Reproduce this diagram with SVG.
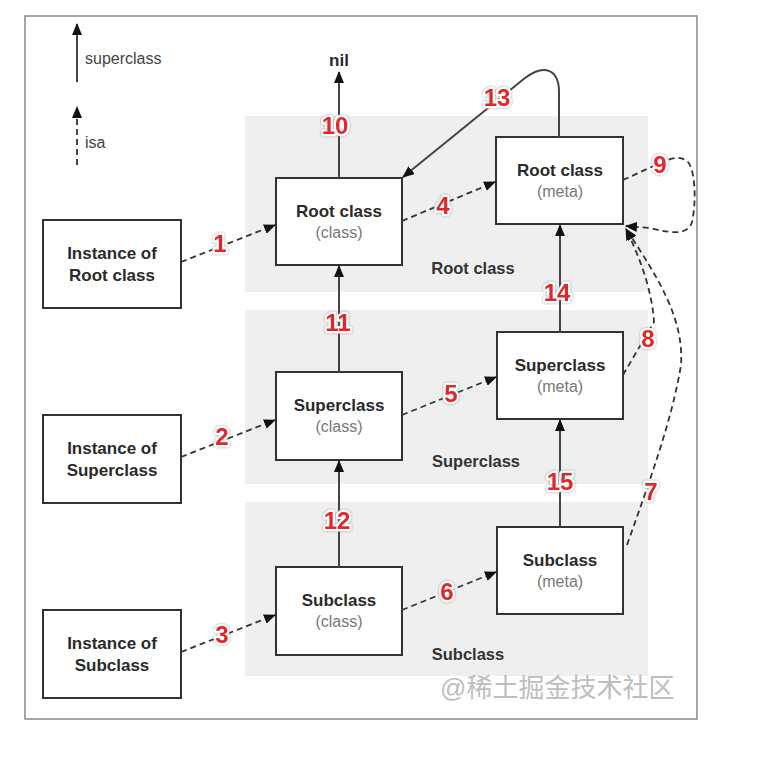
<svg xmlns="http://www.w3.org/2000/svg" width="776" height="763" viewBox="0 0 776 763">
<defs>
<marker id="ah" markerWidth="12" markerHeight="10" refX="11" refY="5" orient="auto" markerUnits="userSpaceOnUse">
<path d="M0,0 L12,5 L0,10 Z" fill="#111"/>
</marker>
<filter id="ring" x="-30%" y="-30%" width="160%" height="160%">
<feDropShadow dx="0" dy="0" stdDeviation="0.8" flood-color="#888" flood-opacity="0.9"/>
</filter>
<style>
.panel{fill:#efefef}
.box{fill:#fff;stroke:#333;stroke-width:2}
.t{font-family:"Liberation Sans",Arial,sans-serif;font-size:17px;font-weight:bold;fill:#2a2a2a;text-anchor:middle}
.s{font-family:"Liberation Sans",Arial,sans-serif;font-size:16px;fill:#777;text-anchor:middle}
.pl{font-family:"Liberation Sans",Arial,sans-serif;font-size:16.5px;font-weight:bold;fill:#333;text-anchor:middle}
.solid{fill:none;stroke:#444;stroke-width:2}
.dash{fill:none;stroke:#333;stroke-width:1.8;stroke-dasharray:6 4}
.n{font-family:"Liberation Sans",Arial,sans-serif;font-size:24px;font-weight:bold;fill:#e3262b;stroke:#fff;stroke-width:4.5;paint-order:stroke;stroke-linejoin:round;text-anchor:middle}
.leg{font-family:"Liberation Sans",Arial,sans-serif;font-size:16px;fill:#444}
</style>
</defs>
<rect x="0" y="0" width="776" height="763" fill="#fff"/>
<rect x="25" y="16" width="672" height="703" fill="none" stroke="#888" stroke-width="1.5"/>

<g id="panels">
<rect class="panel" x="245" y="116" width="403" height="176"/>
<rect class="panel" x="245" y="310" width="403" height="174"/>
<rect class="panel" x="245" y="502" width="403" height="174"/>
<text class="pl" x="473" y="274">Root class</text>
<text class="pl" x="476" y="467">Superclass</text>
<text class="pl" x="468" y="660">Subclass</text>
</g>

<g id="legend">
<line class="solid" x1="77" y1="82" x2="77" y2="24" marker-end="url(#ah)"/>
<text class="leg" x="85" y="64">superclass</text>
<line class="dash" x1="77" y1="165" x2="77" y2="107" stroke-dasharray="5 4" marker-end="url(#ah)"/>
<text class="leg" x="85" y="148">isa</text>
</g>

<g id="inst-root"><rect class="box" x="43" y="220" width="138" height="88"/><text class="t" x="112" y="259">Instance of</text><text class="t" x="112" y="281">Root class</text></g>
<g id="inst-super"><rect class="box" x="43" y="415" width="138" height="88"/><text class="t" x="112" y="454">Instance of</text><text class="t" x="112" y="476">Superclass</text></g>
<g id="inst-sub"><rect class="box" x="43" y="610" width="138" height="88"/><text class="t" x="112" y="649">Instance of</text><text class="t" x="112" y="671">Subclass</text></g>

<g id="root-class"><rect class="box" x="276" y="178" width="126" height="87"/><text class="t" x="339" y="217">Root class</text><text class="s" x="339" y="238">(class)</text></g>
<g id="super-class"><rect class="box" x="276" y="372" width="126" height="88"/><text class="t" x="339" y="411">Superclass</text><text class="s" x="339" y="432">(class)</text></g>
<g id="sub-class"><rect class="box" x="276" y="567" width="126" height="88"/><text class="t" x="339" y="606">Subclass</text><text class="s" x="339" y="627">(class)</text></g>

<g id="root-meta"><rect class="box" x="496" y="137" width="127" height="87"/><text class="t" x="560" y="176">Root class</text><text class="s" x="560" y="197">(meta)</text></g>
<g id="super-meta"><rect class="box" x="497" y="332" width="126" height="87"/><text class="t" x="560" y="371">Superclass</text><text class="s" x="560" y="392">(meta)</text></g>
<g id="sub-meta"><rect class="box" x="497" y="527" width="126" height="87"/><text class="t" x="560" y="566">Subclass</text><text class="s" x="560" y="587">(meta)</text></g>

<g id="nil"><text class="t" x="339" y="66" font-size="15">nil</text></g>

<g id="connectors">
<line class="dash" x1="181" y1="262" x2="275" y2="225" marker-end="url(#ah)"/>
<line class="dash" x1="181" y1="457" x2="275" y2="420" marker-end="url(#ah)"/>
<line class="dash" x1="181" y1="652" x2="275" y2="615" marker-end="url(#ah)"/>
<line class="dash" x1="402" y1="221" x2="495" y2="182" marker-end="url(#ah)"/>
<line class="dash" x1="402" y1="415" x2="496" y2="377" marker-end="url(#ah)"/>
<line class="dash" x1="402" y1="610" x2="496" y2="572" marker-end="url(#ah)"/>
<line class="solid" x1="339" y1="178" x2="339" y2="72" marker-end="url(#ah)"/>
<line class="solid" x1="339" y1="372" x2="339" y2="266" marker-end="url(#ah)"/>
<line class="solid" x1="339" y1="567" x2="339" y2="461" marker-end="url(#ah)"/>
<line class="solid" x1="560" y1="332" x2="560" y2="225" marker-end="url(#ah)"/>
<line class="solid" x1="560" y1="527" x2="560" y2="420" marker-end="url(#ah)"/>
<path class="solid" d="M559,137 L559,92 C559,70 545,63 525,78 L403,177" marker-end="url(#ah)"/>
<path class="dash" d="M623,180 L660,163 C672,158 680,155 688,162 C696,172 696,205 692,222 C688,236 670,233 650,228 L626,226" marker-end="url(#ah)"/>
<path class="dash" d="M623,375 L654,322 C652,290 640,258 626,229" marker-end="url(#ah)"/>
<path class="dash" d="M627,545 C650,480 672,420 681,365 C684,320 660,280 626,229" marker-end="url(#ah)"/>
</g>

<g id="labels" filter="url(#ring)">
<text class="n" x="220" y="252">1</text>
<text class="n" x="222" y="445">2</text>
<text class="n" x="222" y="643">3</text>
<text class="n" x="443" y="214">4</text>
<text class="n" x="451" y="402">5</text>
<text class="n" x="447" y="600">6</text>
<text class="n" x="651" y="500">7</text>
<text class="n" x="648" y="347">8</text>
<text class="n" x="660" y="173">9</text>
<text class="n" x="335" y="134">10</text>
<text class="n" x="338" y="331">11</text>
<text class="n" x="337" y="529">12</text>
<text class="n" x="497" y="106">13</text>
<text class="n" x="557" y="301">14</text>
<text class="n" x="560" y="490">15</text>
</g>

<text x="440" y="697" font-family="'Liberation Sans','Noto Sans CJK SC',sans-serif" font-size="26" fill="#bdbdbd">@稀土掘金技术社区</text>
</svg>
